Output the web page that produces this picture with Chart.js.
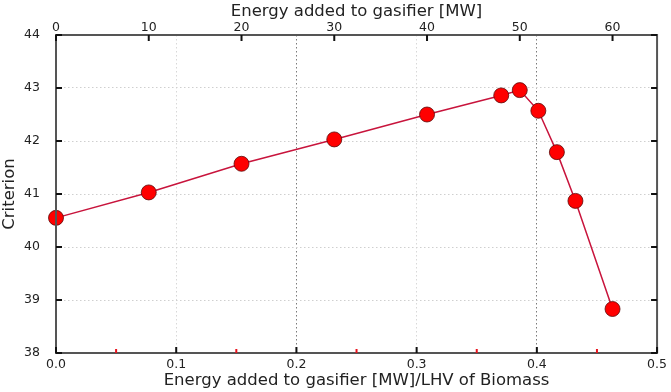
<!DOCTYPE html>
<html>
<head>
<meta charset="utf-8">
<script src="https://cdn.jsdelivr.net/npm/chart.js@4"></script>
<style>
  html, body { margin: 0; padding: 0; background: #fff; }
  #wrap { width: 671px; height: 392px; }
</style>
</head>
<body>
<div id="wrap"><canvas id="criterionChart"></canvas></div>
<script>
// Energy added to gasifier [MW] (top axis) and the criterion value
const energyMW = [0, 10, 20, 30, 40, 48, 50, 52, 54, 56, 60];
const criterion = [40.55, 41.03, 41.57, 42.03, 42.50, 42.86, 42.96, 42.57, 41.79, 40.87, 38.83];

// LHV of biomass [MW], links the top axis to the bottom one
const lhvBiomass = 129.6;

const ratioTicks = [0.0, 0.1, 0.2, 0.3, 0.4, 0.5];
const minorRatioTicks = [0.05, 0.15, 0.25, 0.35, 0.45];
const mwTicks = [0, 10, 20, 30, 40, 50, 60];
const yTicks = [38, 39, 40, 41, 42, 43, 44];

const FONT = "'DejaVu Sans', sans-serif";

// inward tick marks + frame, drawn through the chart's scales
const frameTicks = {
    id: 'frameTicks',
    afterDraw(chart) {
        const c = chart.ctx;
        const a = chart.chartArea;
        const sx = chart.scales.x, sx2 = chart.scales.x2, sy = chart.scales.y;
        c.save();
        c.strokeStyle = '#555';
        c.lineWidth = 2;
        c.strokeRect(a.left, a.top, a.right - a.left, a.bottom - a.top);

        c.strokeStyle = '#111';
        c.lineWidth = 2;
        c.beginPath();
        ratioTicks.forEach(v => {
            const px = sx.getPixelForValue(v);
            c.moveTo(px, a.bottom); c.lineTo(px, a.bottom - 6);
        });
        mwTicks.forEach(v => {
            const px = sx2.getPixelForValue(v);
            c.moveTo(px, a.top); c.lineTo(px, a.top + 6);
        });
        yTicks.forEach(v => {
            const py = sy.getPixelForValue(v);
            c.moveTo(a.left, py); c.lineTo(a.left + 6, py);
            c.moveTo(a.right, py); c.lineTo(a.right - 6, py);
        });
        c.stroke();

        c.strokeStyle = '#e8141e';
        c.beginPath();
        minorRatioTicks.forEach(v => {
            const px = sx.getPixelForValue(v);
            c.moveTo(px, a.bottom); c.lineTo(px, a.bottom - 4);
        });
        c.stroke();
        c.restore();
    }
};

new Chart(document.getElementById('criterionChart'), {
    type: 'line',
    data: {
        datasets: [{
            label: 'Criterion',
            data: energyMW.map((e, i) => ({ x: e, y: criterion[i] })),
            xAxisID: 'x2',
            yAxisID: 'y',
            borderColor: '#c8143c',
            borderWidth: 1.5,
            pointRadius: 7.5,
            pointHoverRadius: 7.5,
            pointBackgroundColor: '#ff0000',
            pointBorderColor: '#5a0a0a',
            pointBorderWidth: 0.8,
            tension: 0,
            clip: false
        }]
    },
    plugins: [frameTicks],
    options: {
        responsive: true,
        maintainAspectRatio: false,
        animation: false,
        events: [],
        layout: { padding: 0 },
        plugins: {
            legend: { display: false },
            tooltip: { enabled: false }
        },
        scales: {
            x: {
                type: 'linear',
                position: 'bottom',
                min: 0,
                max: 0.5,
                afterBuildTicks: s => { s.ticks = ratioTicks.map(v => ({ value: v })); },
                afterFit: s => { s.height = 39; },
                border: { display: false, dash: [1.5, 2.5] },
                grid: {
                    drawTicks: false,
                    color: ctx => (ctx.index % 2 === 0 ? '#7a7a7a' : '#d8d8d8'),
                    lineWidth: ctx => (ctx.index === ratioTicks.length - 1 ? 0 : 1)
                },
                ticks: {
                    padding: 4,
                    color: '#222',
                    font: { family: FONT, size: 12.5 },
                    callback: v => v.toFixed(1)
                },
                title: {
                    display: true,
                    text: 'Energy added to gasifier [MW]/LHV of Biomass',
                    color: '#222',
                    font: { family: FONT, size: 16.5 },
                    padding: { top: 0, bottom: 1 }
                }
            },
            x2: {
                type: 'linear',
                position: 'top',
                min: 0,
                max: 0.5 * lhvBiomass,
                afterBuildTicks: s => { s.ticks = mwTicks.map(v => ({ value: v })); },
                afterFit: s => { s.height = 35; },
                border: { display: false },
                grid: { display: false, drawTicks: false },
                ticks: {
                    padding: 0,
                    color: '#222',
                    font: { family: FONT, size: 12.5 }
                },
                title: {
                    display: true,
                    text: 'Energy added to gasifier [MW]',
                    color: '#222',
                    font: { family: FONT, size: 16.5 },
                    padding: { top: 2, bottom: 0 }
                }
            },
            y: {
                type: 'linear',
                position: 'left',
                min: 38,
                max: 44,
                afterBuildTicks: s => { s.ticks = yTicks.map(v => ({ value: v })); },
                afterFit: s => { s.width = 56; },
                border: { display: false, dash: [1.5, 2.5] },
                grid: {
                    drawTicks: false,
                    color: '#cfcfcf',
                    lineWidth: ctx => (ctx.index === 0 || ctx.index === yTicks.length - 1 ? 0 : 1)
                },
                ticks: {
                    padding: 16,
                    color: '#222',
                    font: { family: FONT, size: 12.5 }
                },
                title: {
                    display: true,
                    text: 'Criterion',
                    color: '#222',
                    font: { family: FONT, size: 16.5 },
                    padding: { top: 0, bottom: 0 }
                }
            },
            y2: {
                type: 'linear',
                position: 'right',
                min: 38,
                max: 44,
                afterFit: s => { s.width = 13; },
                border: { display: false },
                grid: { display: false, drawTicks: false },
                ticks: { display: false }
            }
        }
    }
});
</script>
</body>
</html>
